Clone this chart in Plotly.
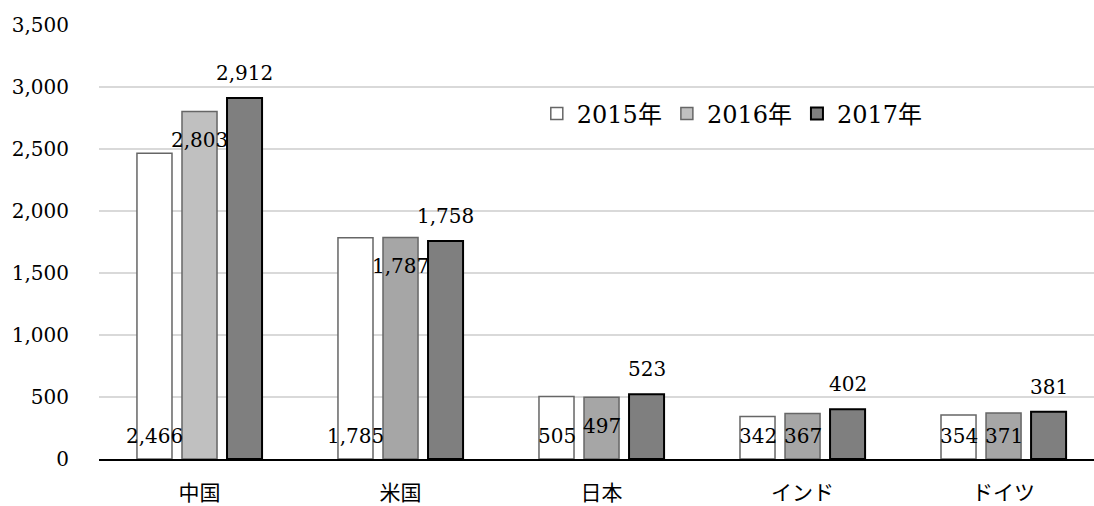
import plotly.graph_objects as go

# Countries and yearly values
countries = ["中国", "米国", "日本", "インド", "ドイツ"]
years = ["2015年", "2016年", "2017年"]
values_2015 = [2466, 1785, 505, 342, 354]
values_2016 = [2803, 1787, 497, 367, 371]
values_2017 = [2912, 1758, 523, 402, 381]
y_ticks = [0, 500, 1000, 1500, 2000, 2500, 3000, 3500]

series = [values_2015, values_2016, values_2017]

# Styling
FONT = "DejaVu Serif, Noto Sans CJK JP"
fills = [
    ["#ffffff"] * 5,
    ["#c0c0c0", "#a6a6a6", "#a6a6a6", "#a6a6a6", "#a6a6a6"],
    ["#7f7f7f"] * 5,
]
borders = ["#666666", "#666666", "#000000"]
border_w = [1.5, 1.5, 2]

W, H = 1094, 506
margin = dict(l=99, r=0, t=25, b=42)
x_range = [-0.5, 4.45]
bargap = 0.328
bargroupgap = 0.222

fig = go.Figure()
for name, vals, fc, bc, bw in zip(years, series, fills, borders, border_w):
    fig.add_trace(go.Bar(
        x=countries, y=vals, name=name,
        marker=dict(color=fc, line=dict(color=bc, width=bw)),
        hoverinfo="x+y",
    ))

# pixel geometry of the grouped bars, for placing the value labels
plot_w = W - margin["l"] - margin["r"]
cat_px = plot_w / (x_range[1] - x_range[0])
slot_px = cat_px * (1 - bargap) / len(series)

def fmt(v):
    return f"{v:,}"

annotations = []
for si, vals in enumerate(series):
    dx = (si - 1) * slot_px
    for ci, v in enumerate(vals):
        if si == 0:
            y, shift = 0, 23
        elif si == 1:
            if ci < 2:
                y, shift = v, -29
            elif ci == 2:
                y, shift = 0, 33
            else:
                y, shift = 0, 23
        else:
            y, shift = v, 25
        annotations.append(dict(
            x=countries[ci], y=y, xref="x", yref="y",
            text=fmt(v), showarrow=False,
            xshift=dx, yshift=shift, yanchor="middle", xanchor="center",
            font=dict(family=FONT, size=20, color="#000000"),
        ))

fig.update_layout(
    width=W, height=H,
    margin=margin,
    paper_bgcolor="white", plot_bgcolor="white",
    barmode="group", bargap=bargap, bargroupgap=bargroupgap,
    font=dict(family=FONT, size=20, color="#000000"),
    showlegend=True,
    legend=dict(
        orientation="h", x=0.44, y=0.795, xanchor="left", yanchor="middle",
        font=dict(family=FONT, size=24, color="#000000"),
        bgcolor="rgba(0,0,0,0)", itemclick=False,
    ),
    annotations=annotations,
)
fig.update_xaxes(
    range=x_range, showline=True, linecolor="#000000", linewidth=2,
    ticks="outside", ticklen=14, tickcolor="rgba(0,0,0,0)",
    tickfont=dict(family="Noto Sans CJK JP", size=21, color="#000000"),
    showgrid=False, fixedrange=True,
)
fig.update_yaxes(
    range=[0, 3500], tickvals=y_ticks, ticktext=[fmt(t) for t in y_ticks],
    showgrid=True, gridcolor="#d9d9d9", gridwidth=1.5,
    zeroline=False, showline=False,
    ticks="outside", ticklen=25, tickcolor="rgba(0,0,0,0)",
    tickfont=dict(family=FONT, size=20, color="#000000"),
    fixedrange=True,
)

fig.write_html("out.html")
